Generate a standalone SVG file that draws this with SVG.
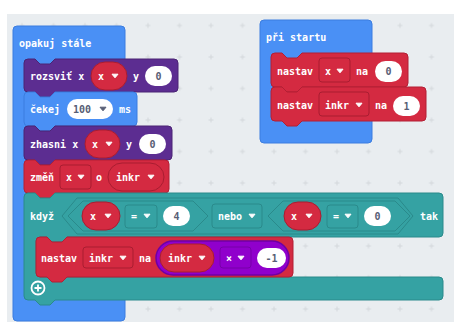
<svg xmlns="http://www.w3.org/2000/svg" width="454" height="322" viewBox="0 0 454 322">
<style>
.t{fill:#fff;font-family:"DejaVu Sans Mono","Liberation Mono",monospace;font-size:10px;font-weight:bold;dominant-baseline:central}
.n{fill:#575e75;font-family:"DejaVu Sans Mono","Liberation Mono",monospace;font-size:10px;font-weight:bold;dominant-baseline:central;text-anchor:middle}
.blue{fill:#4a90f5;stroke:#3b7de0;stroke-width:1}
.pur{fill:#5c2d91;stroke:#4a2474;stroke-width:1}
.red{fill:#d42a41;stroke:#b31f34;stroke-width:1}
.teal{fill:#35a2a3;stroke:#2a8a8b;stroke-width:1}
.math{fill:#9000cc;stroke:#6f00a3;stroke-width:1.5}
.wh{fill:#fff}
.dred{fill:#d42a41;stroke:#a91d31;stroke-width:1}
.dteal{fill:#35a2a3;stroke:#2a8a8b;stroke-width:1}
.dmath{fill:#9000cc;stroke:#7600a8;stroke-width:1}
.arr{fill:#fff;stroke:#fff;stroke-width:1;stroke-linejoin:round}
.arrg{fill:#575e75;stroke:#575e75;stroke-width:1;stroke-linejoin:round}
</style>
<defs>
<pattern id="grid" x="6.25" y="9.75" width="31.5" height="31.5" patternUnits="userSpaceOnUse">
<path d="M13.25,15.75h5M15.75,13.25v5" stroke="#d3d8dc" stroke-width="1" fill="none"/>
</pattern>
<path id="dd" d="M-3,-1.8h6l-3,3.6z"/>
</defs>
<rect x="0" y="0" width="454" height="322" fill="#fff"/>
<rect x="7" y="14" width="447" height="308" fill="#e9edf0"/>
<rect x="7" y="14" width="447" height="308" fill="url(#grid)"/>

<g id="opakuj-stale">
<rect class="blue" x="13" y="26" width="112" height="295" rx="4"/>
<text class="t" x="19" y="43">opakuj stále</text>
</g>

<g id="rozsvit">
<path class="pur" d="M24,63 q0,-4 4,-4 H35 l5,5 h10 l5,-5 H174 q4,0 4,4 V88 q0,4 -4,4 H55 l-5,5 h-10 l-5,-5 H28 q-4,0 -4,-4 Z"/>
<text class="t" x="30" y="76">rozsviť x</text>
<rect class="dred" x="91" y="62" width="36" height="28" rx="14"/>
<text class="t" x="98" y="76">x</text>
<use href="#dd" class="arr" x="115" y="76"/>
<text class="t" x="133" y="76">y</text>
<rect class="wh" x="145" y="66" width="27" height="20" rx="10"/>
<text class="n" x="158.5" y="76">0</text>
</g>

<g id="cekej">
<path class="blue" d="M24,96 q0,-4 4,-4 H35 l5,5 h10 l5,-5 H133 q4,0 4,4 V122 q0,4 -4,4 H55 l-5,5 h-10 l-5,-5 H28 q-4,0 -4,-4 Z"/>
<text class="t" x="30" y="109">čekej</text>
<rect class="wh" x="67" y="99" width="46" height="20" rx="10"/>
<text class="n" x="82" y="109">100</text>
<use href="#dd" class="arrg" x="103" y="109"/>
<text class="t" x="119" y="109">ms</text>
</g>

<g id="zhasni">
<path class="pur" d="M24,130 q0,-4 4,-4 H35 l5,5 h10 l5,-5 H168 q4,0 4,4 V156 q0,4 -4,4 H55 l-5,5 h-10 l-5,-5 H28 q-4,0 -4,-4 Z"/>
<text class="t" x="30" y="144">zhasni x</text>
<rect class="dred" x="85" y="130" width="35" height="28" rx="14"/>
<text class="t" x="92" y="144">x</text>
<use href="#dd" class="arr" x="109" y="144"/>
<text class="t" x="126" y="144">y</text>
<rect class="wh" x="139" y="134" width="27" height="20" rx="10"/>
<text class="n" x="152.5" y="144">0</text>
</g>

<g id="zmen">
<path class="red" d="M24,164 q0,-4 4,-4 H35 l5,5 h10 l5,-5 H165 q4,0 4,4 V189 q0,4 -4,4 H55 l-5,5 h-10 l-5,-5 H28 q-4,0 -4,-4 Z"/>
<text class="t" x="30" y="177">změň</text>
<rect class="dred" x="60" y="165" width="31" height="24" rx="3"/>
<text class="t" x="66" y="177">x</text>
<use href="#dd" class="arr" x="81" y="177"/>
<text class="t" x="96" y="177">o</text>
<rect class="dred" x="108" y="163" width="56" height="28" rx="14"/>
<text class="t" x="116" y="177">inkr</text>
<use href="#dd" class="arr" x="151" y="177"/>
</g>

<g id="kdyz">
<path class="teal" d="M24,197 q0,-4 4,-4 H35 l5,5 h10 l5,-5 H439 q4,0 4,4 V233 q0,4 -4,4 H67 l-5,5 h-10 l-5,-5 H40 q-4,0 -4,4 V273 q0,4 4,4 H439 q4,0 4,4 V296 q0,4 -4,4 H55 l-5,5 h-10 l-5,-5 H28 q-4,0 -4,-4 Z"/>
<text class="t" x="30" y="216">když</text>
<path class="dteal" d="M62,216 L77,198 H398 L413,216 L398,234 H77 Z"/>
<path class="dteal" d="M68,216 L83,201 H193 L208,216 L193,231 H83 Z"/>
<rect class="dred" x="82" y="202" width="38" height="28" rx="14"/>
<text class="t" x="90" y="216">x</text>
<use href="#dd" class="arr" x="108" y="216"/>
<rect class="dteal" x="125" y="205" width="32" height="23" rx="3"/>
<text class="t" x="131" y="216">=</text>
<use href="#dd" class="arr" x="147" y="216"/>
<rect class="wh" x="163" y="206" width="27" height="20" rx="10"/>
<text class="n" x="176.5" y="216">4</text>
<rect class="dteal" x="212" y="204" width="50" height="24" rx="3"/>
<text class="t" x="218" y="216">nebo</text>
<use href="#dd" class="arr" x="252" y="216"/>
<path class="dteal" d="M268,216 L283,201 H395 L410,216 L395,231 H283 Z"/>
<rect class="dred" x="284" y="202" width="37" height="28" rx="14"/>
<text class="t" x="291" y="216">x</text>
<use href="#dd" class="arr" x="309" y="216"/>
<rect class="dteal" x="327" y="205" width="31" height="23" rx="3"/>
<text class="t" x="333" y="216">=</text>
<use href="#dd" class="arr" x="348" y="216"/>
<rect class="wh" x="364" y="206" width="27" height="20" rx="10"/>
<text class="n" x="377.5" y="216">0</text>
<text class="t" x="420" y="216">tak</text>
<circle cx="38" cy="288" r="6.5" fill="none" stroke="#fff" stroke-width="1.8"/>
<path d="M34.5,288h7M38,284.5v7" stroke="#fff" stroke-width="1.8"/>
</g>

<g id="nastav-inkr-loop">
<path class="red" d="M36,241 q0,-4 4,-4 H47 l5,5 h10 l5,-5 H289 q4,0 4,4 V273 q0,4 -4,4 H67 l-5,5 h-10 l-5,-5 H40 q-4,0 -4,-4 Z"/>
<text class="t" x="41" y="258">nastav</text>
<rect class="dred" x="83" y="247" width="50" height="21" rx="3"/>
<text class="t" x="89" y="258">inkr</text>
<use href="#dd" class="arr" x="123" y="258"/>
<text class="t" x="139" y="258">na</text>
<rect class="math" x="156" y="241" width="133" height="34" rx="17"/>
<rect class="dred" x="160" y="244" width="54" height="28" rx="14"/>
<text class="t" x="168" y="258">inkr</text>
<use href="#dd" class="arr" x="202" y="258"/>
<rect class="dmath" x="220" y="247" width="31" height="21" rx="3"/>
<text class="t" x="226" y="258">×</text>
<use href="#dd" class="arr" x="241" y="258"/>
<rect class="wh" x="257" y="248" width="29" height="20" rx="10"/>
<text class="n" x="271.5" y="258">-1</text>
</g>

<g id="pri-startu">
<rect class="blue" x="260" y="20" width="112" height="123" rx="4"/>
<text class="t" x="266" y="37">při startu</text>
</g>

<g id="nastav-x">
<path class="red" d="M271,57 q0,-4 4,-4 H282 l5,5 h10 l5,-5 H404 q4,0 4,4 V83 q0,4 -4,4 H302 l-5,5 h-10 l-5,-5 H275 q-4,0 -4,-4 Z"/>
<text class="t" x="277" y="71">nastav</text>
<rect class="dred" x="319" y="58" width="31" height="24" rx="3"/>
<text class="t" x="325" y="71">x</text>
<use href="#dd" class="arr" x="340" y="71"/>
<text class="t" x="356" y="71">na</text>
<rect class="wh" x="375" y="61" width="27" height="21" rx="10.5"/>
<text class="n" x="388.5" y="71.5">0</text>
</g>

<g id="nastav-inkr">
<path class="red" d="M271,91 q0,-4 4,-4 H282 l5,5 h10 l5,-5 H422 q4,0 4,4 V117 q0,4 -4,4 H302 l-5,5 h-10 l-5,-5 H275 q-4,0 -4,-4 Z"/>
<text class="t" x="277" y="105">nastav</text>
<rect class="dred" x="319" y="92" width="50" height="24" rx="3"/>
<text class="t" x="325" y="105">inkr</text>
<use href="#dd" class="arr" x="359" y="105"/>
<text class="t" x="375" y="105">na</text>
<rect class="wh" x="393" y="96" width="27" height="20" rx="10"/>
<text class="n" x="406.5" y="106">1</text>
</g>

<g id="connectors"></g>
</svg>
